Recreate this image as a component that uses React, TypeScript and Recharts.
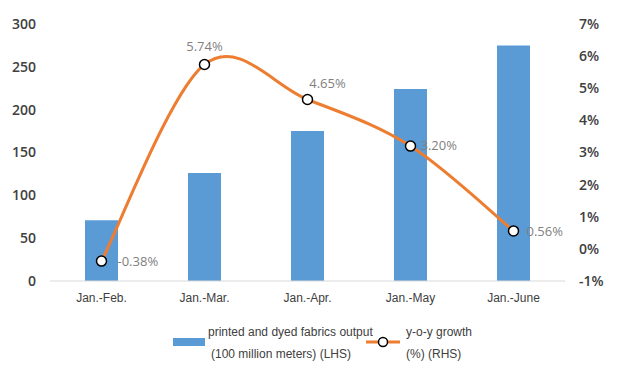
import React from 'react';
import { ComposedChart, Bar, Line, XAxis, YAxis, LabelList, Legend } from 'recharts';

const periods = ['Jan.-Feb.', 'Jan.-Mar.', 'Jan.-Apr.', 'Jan.-May', 'Jan.-June'];
const fabricOutput = [71, 126, 175, 224, 275];
const yoyGrowth = [-0.38, 5.74, 4.65, 3.2, 0.56];
const leftTicks = [0, 50, 100, 150, 200, 250, 300];
const rightTicks = [-1, 0, 1, 2, 3, 4, 5, 6, 7];

const data = periods.map((p, i) => ({ name: p, output: fabricOutput[i], growth: yoyGrowth[i] }));

// excel-style smoothing (catmull-rom through every point)
const smoothCurve = (ctx: any) => {
    let pts: number[][] = [];
    return {
        areaStart() {},
        areaEnd() {},
        lineStart() { pts = []; },
        point(x: number, y: number) { pts.push([+x, +y]); },
        lineEnd() {
            if (!pts.length) return;
            ctx.moveTo(pts[0][0], pts[0][1]);
            for (let i = 0; i < pts.length - 1; i++) {
                const p0 = pts[i - 1] || pts[i];
                const p1 = pts[i];
                const p2 = pts[i + 1];
                const p3 = pts[i + 2] || p2;
                ctx.bezierCurveTo(
                    p1[0] + (p2[0] - p0[0]) / 6, p1[1] + (p2[1] - p0[1]) / 6,
                    p2[0] - (p3[0] - p1[0]) / 6, p2[1] - (p3[1] - p1[1]) / 6,
                    p2[0], p2[1]
                );
            }
        },
    };
};

const labelOffsets = [
    { dx: 16, dy: 5, anchor: 'start' },
    { dx: 0, dy: -13, anchor: 'middle' },
    { dx: 20, dy: -11, anchor: 'middle' },
    { dx: 10, dy: 4, anchor: 'start' },
    { dx: 13, dy: 5, anchor: 'start' },
];

const GrowthLabel = (props: any) => {
    const { x, y, value, index } = props;
    const o = labelOffsets[index];
    return (
        <text x={x + o.dx} y={y + o.dy} textAnchor={o.anchor} fontSize={13} fill="#7f7f7f" fontFamily="'Open Sans', sans-serif">
            {value.toFixed(2)}%
        </text>
    );
};

const legendFont = "'Liberation Sans', Arial, sans-serif";

const LegendBox = () => (
    <svg width={620} height={66} style={{ display: 'block' }}>
        <rect x={173} y={29} width={32} height={8} fill="#5B9BD5" />
        <text x={208} y={27} fontSize={12} fill="#404040" fontFamily={legendFont}>printed and dyed fabrics output</text>
        <text x={211} y={49} fontSize={12} fill="#404040" fontFamily={legendFont}>(100 million meters) (LHS)</text>
        <line x1={366} x2={400} y1={33} y2={33} stroke="#ED7D31" strokeWidth={3} />
        <circle cx={383} cy={33} r={4.5} fill="#fff" stroke="#000" strokeWidth={1.5} />
        <text x={406} y={27} fontSize={12} fill="#404040" fontFamily={legendFont}>y-o-y growth</text>
        <text x={406} y={49} fontSize={12} fill="#404040" fontFamily={legendFont}>(%) (RHS)</text>
    </svg>
);

const App: React.FC = () => (
    <div style={{ position: 'absolute', left: 0, top: 0, width: 620, height: 380, background: '#fff' }}>
        <ComposedChart width={620} height={380} data={data} margin={{ top: 24, right: 0, bottom: 0, left: 0 }}>
            <XAxis
                dataKey="name"
                axisLine={{ stroke: '#d9d9d9' }}
                tickLine={false}
                tick={{ fill: '#404040', fontSize: 12, fontFamily: legendFont }}
                tickMargin={6}
                height={28}
            />
            <YAxis
                yAxisId="left"
                domain={[0, 300]}
                ticks={leftTicks}
                axisLine={false}
                tickLine={false}
                width={50}
                tickMargin={8}
                tick={{ fill: '#404040', fontSize: 14, fontWeight: 600, fontFamily: "'Open Sans', sans-serif" }}
            />
            <YAxis
                yAxisId="right"
                orientation="right"
                domain={[-1, 7]}
                ticks={rightTicks}
                tickFormatter={(v: number) => `${v}%`}
                axisLine={false}
                tickLine={false}
                width={55}
                tickMargin={8}
                tick={{ fill: '#404040', fontSize: 14, fontWeight: 600, fontFamily: "'Open Sans', sans-serif", textAnchor: 'start' }}
            />
            <Legend verticalAlign="bottom" height={71} content={() => <LegendBox />} />
            <Bar yAxisId="left" dataKey="output" fill="#5B9BD5" barSize={33} isAnimationActive={false} />
            <Line
                yAxisId="right"
                dataKey="growth"
                type={smoothCurve as any}
                stroke="#ED7D31"
                strokeWidth={3}
                dot={{ r: 5, fill: '#fff', stroke: '#000', strokeWidth: 1.5 }}
                isAnimationActive={false}
            >
                <LabelList dataKey="growth" content={<GrowthLabel />} />
            </Line>
        </ComposedChart>
    </div>
);

export default App;
